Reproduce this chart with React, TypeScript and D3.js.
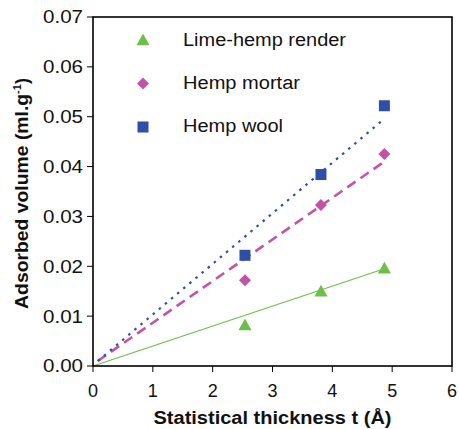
import React, { useEffect } from 'react'
import * as d3 from 'd3'

const seriesNames = ['Lime-hemp render', 'Hemp mortar', 'Hemp wool']
const colors = ['#6cbf48', '#c453a8', '#2f4fa6']
const thickness = [2.54, 3.81, 4.87]
const limeHemp = [0.0082, 0.015, 0.0196]
const hempMortar = [0.0172, 0.0323, 0.0425]
const hempWool = [0.0222, 0.0384, 0.0522]
// fitted lines, start and end points
const fitX = [[0, 4.87], [0.08, 4.87], [0.08, 4.87]]
const fitY = [[0, 0.0195], [0.001, 0.041], [0.001, 0.0496]]
const xTicks = [0, 1, 2, 3, 4, 5, 6]
const yTicks = [0, 0.01, 0.02, 0.03, 0.04, 0.05, 0.06, 0.07]

const W = 459
const H = 429
const margin = { top: 17, right: 7, bottom: 63, left: 93 }
const font = 'Liberation Sans, Arial, sans-serif'
// the original glyphs are a bit wider than Arial's, so text is stretched to these widths
const legendWidths = [163, 117, 100]

export default function App() {
  useEffect(() => {
    document.body.style.margin = '0'
  }, [])

  const x = d3.scaleLinear().domain([0, 6]).range([margin.left, W - margin.right])
  const y = d3.scaleLinear().domain([0, 0.07]).range([H - margin.bottom, margin.top])
  const line = d3.line<[number, number]>().x(d => x(d[0])).y(d => y(d[1]))
  const series = [limeHemp, hempMortar, hempWool]
  const dashes = [undefined, '10,6', '2.5,5.5']
  const widths = [1.2, 2.6, 2.2]

  const marker = (i: number, cx: number, cy: number, key: string) => {
    if (i === 0) {
      const s = 6.5
      return <path key={key} d={`M${cx},${cy - s}L${cx + s},${cy + s * 0.8}L${cx - s},${cy + s * 0.8}Z`} fill={colors[0]} />
    }
    if (i === 1) {
      const s = 6
      return <path key={key} d={`M${cx},${cy - s}L${cx + s},${cy}L${cx},${cy + s}L${cx - s},${cy}Z`} fill={colors[1]} />
    }
    return <rect key={key} x={cx - 5.5} y={cy - 5.5} width={11} height={11} fill={colors[2]} />
  }

  return (
    <svg width={W} height={H} style={{ display: 'block', fontFamily: font }}>
      <rect x={0} y={0} width={W} height={H} fill="#fff" />
      {/* fit lines */}
      {fitX.map((fx, i) => (
        <path
          key={'fit' + i}
          d={line([[fx[0], fitY[i][0]], [fx[1], fitY[i][1]]]) || ''}
          stroke={colors[i]}
          strokeWidth={widths[i]}
          strokeDasharray={dashes[i]}
          fill="none"
        />
      ))}
      {/* markers */}
      {series.map((vals, i) =>
        vals.map((v, j) => marker(i, x(thickness[j]), y(v), `m${i}-${j}`))
      )}
      {/* frame */}
      <rect
        x={x(0)}
        y={y(0.07)}
        width={x(6) - x(0)}
        height={y(0) - y(0.07)}
        fill="none"
        stroke="#000"
        strokeWidth={1.6}
      />
      {/* y axis */}
      {yTicks.map(t => (
        <g key={'y' + t}>
          <line x1={x(0) - 6} x2={x(0)} y1={y(t)} y2={y(t)} stroke="#000" strokeWidth={1} />
          <text
            x={x(0) - 10}
            y={y(t)}
            dy="0.36em"
            textAnchor="end"
            fontSize={18}
            textLength={40}
            lengthAdjust="spacingAndGlyphs"
            fill="#111"
          >
            {t.toFixed(2)}
          </text>
        </g>
      ))}
      {/* x axis */}
      {xTicks.map(t => (
        <g key={'x' + t}>
          <line x1={x(t)} x2={x(t)} y1={y(0)} y2={y(0) + 6} stroke="#000" strokeWidth={1} />
          <text x={x(t)} y={y(0) + 31} textAnchor="middle" fontSize={18} fill="#111">
            {t}
          </text>
        </g>
      ))}
      <text
        x={(x(0) + x(6)) / 2}
        y={424}
        textAnchor="middle"
        fontSize={18}
        fontWeight="bold"
        textLength={238}
        lengthAdjust="spacingAndGlyphs"
        fill="#111"
      >
        Statistical thickness t (Å)
      </text>
      <text
        transform={`translate(28,${(y(0) + y(0.07)) / 2 + 2}) rotate(-90)`}
        textAnchor="middle"
        fontSize={18}
        fontWeight="bold"
        fill="#111"
      >
        <tspan textLength={215} lengthAdjust="spacingAndGlyphs">Adsorbed volume (ml.g</tspan>
        <tspan dy="-7" fontSize={11}>-1</tspan>
        <tspan dy="7">)</tspan>
      </text>
      {/* legend */}
      {seriesNames.map((name, i) => (
        <g key={'leg' + i}>
          {marker(i, 143, 40 + i * 43.5, 'lm' + i)}
          <text
            x={183}
            y={46 + i * 43}
            fontSize={18}
            textLength={legendWidths[i]}
            lengthAdjust="spacingAndGlyphs"
            fill="#111"
          >
            {name}
          </text>
        </g>
      ))}
    </svg>
  )
}
